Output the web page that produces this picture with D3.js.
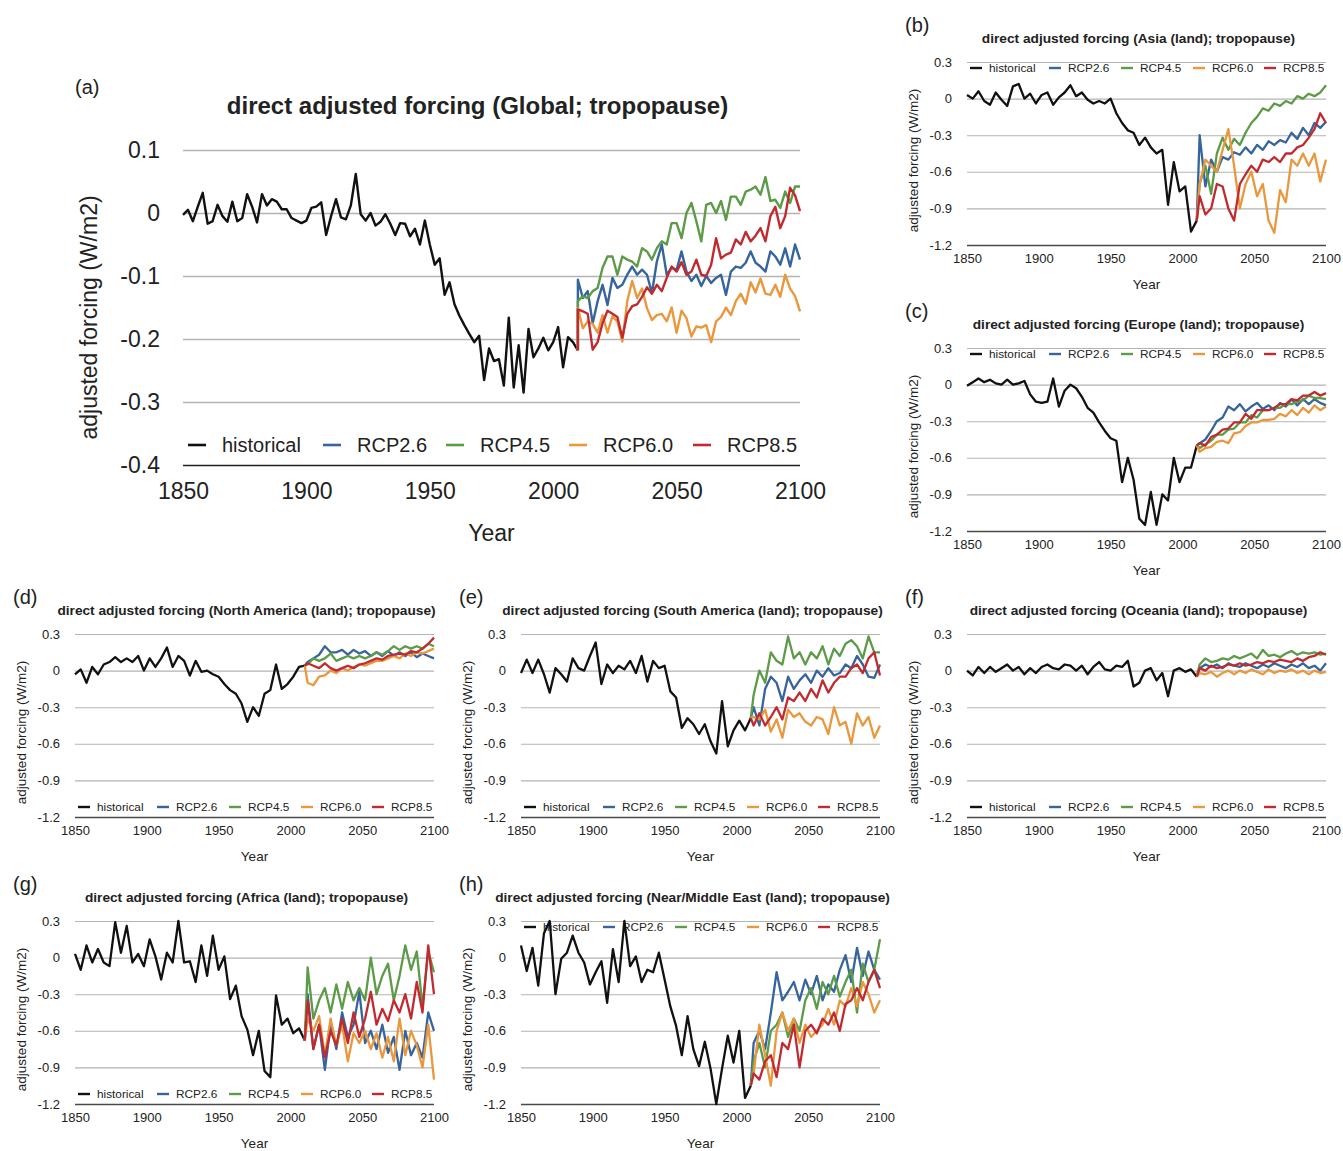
<!DOCTYPE html>
<html>
<head>
<meta charset="utf-8">
<script src="https://cdn.jsdelivr.net/npm/d3@7"></script>
<style>
  body { margin: 0; background: #fff; }
  svg { display: block; }
  text { font-family: 'Liberation Sans', Arial, Helvetica, sans-serif; fill: #222; }
</style>
</head>
<body>
<svg id="fig" width="1343" height="1151"></svg>
<script>
// ---- series names, colours and axis ticks ----
const scenarios = ["historical", "RCP2.6", "RCP4.5", "RCP6.0", "RCP8.5"];
const scenarioColors = ["#111111", "#36649c", "#5c9b47", "#e9983e", "#c12b30"];
const xTicks = [1850, 1900, 1950, 2000, 2050, 2100];
const globalYTicks = [0.1, 0, -0.1, -0.2, -0.3, -0.4];
const regionYTicks = [0.3, 0, -0.3, -0.6, -0.9, -1.2];

// ---- Global mean: historical 1850-2010 (every 2 yr), scenarios 2010-2100 (every 2 yr) ----
const globalHist = [
  -0.003, 0.005, -0.013, 0.010, 0.032, -0.017, -0.013, 0.013, -0.005, -0.014,
  0.018, -0.013, -0.008, 0.030, 0.010, -0.015, 0.030, 0.012, 0.022, 0.018,
  0.006, 0.006, -0.008, -0.012, -0.016, -0.012, 0.008, 0.010, 0.017, -0.035,
  -0.005, 0.022, -0.007, -0.010, 0.012, 0.062, -0.002, -0.012, 0.000, -0.020,
  -0.014, -0.002, -0.017, -0.035, -0.016, -0.017, -0.037, -0.025, -0.050, -0.012,
  -0.050, -0.082, -0.072, -0.130, -0.110, -0.145, -0.163, -0.178, -0.192, -0.205,
  -0.195, -0.265, -0.215, -0.235, -0.232, -0.274, -0.166, -0.277, -0.210, -0.285,
  -0.184, -0.229, -0.215, -0.198, -0.218, -0.205, -0.181, -0.245, -0.197, -0.205,
  -0.218
];
const globalRcp26 = [
  -0.106, -0.135, -0.124, -0.175, -0.140, -0.114, -0.146, -0.103, -0.119, -0.114,
  -0.098, -0.085, -0.098, -0.090, -0.098, -0.127, -0.077, -0.050, -0.098, -0.087,
  -0.090, -0.061, -0.093, -0.108, -0.098, -0.116, -0.100, -0.111, -0.103, -0.098,
  -0.130, -0.093, -0.085, -0.087, -0.079, -0.061, -0.079, -0.085, -0.093, -0.061,
  -0.069, -0.082, -0.056, -0.085, -0.050, -0.074
];
const globalRcp45 = [
  -0.140, -0.132, -0.135, -0.124, -0.119, -0.087, -0.069, -0.069, -0.098, -0.069,
  -0.074, -0.077, -0.085, -0.056, -0.061, -0.074, -0.056, -0.045, -0.050, -0.016,
  -0.016, -0.040, 0.000, 0.016, -0.013, -0.045, 0.013, 0.016, 0.000, 0.019,
  -0.011, 0.026, 0.026, 0.013, 0.034, 0.037, 0.042, 0.029, 0.057, 0.019,
  0.021, 0.008, 0.034, 0.016, 0.042, 0.042
];
const globalRcp60 = [
  -0.151, -0.183, -0.172, -0.176, -0.190, -0.162, -0.190, -0.164, -0.172, -0.204,
  -0.140, -0.108, -0.135, -0.120, -0.151, -0.170, -0.162, -0.160, -0.172, -0.150,
  -0.190, -0.155, -0.167, -0.196, -0.180, -0.182, -0.178, -0.205, -0.172, -0.165,
  -0.150, -0.162, -0.140, -0.128, -0.144, -0.110, -0.126, -0.104, -0.128, -0.130,
  -0.114, -0.133, -0.098, -0.120, -0.132, -0.156
];
const globalRcp85 = [
  -0.153, -0.156, -0.160, -0.217, -0.205, -0.175, -0.155, -0.160, -0.165, -0.198,
  -0.160, -0.148, -0.145, -0.133, -0.118, -0.128, -0.114, -0.124, -0.103, -0.085,
  -0.093, -0.078, -0.098, -0.093, -0.074, -0.098, -0.100, -0.082, -0.040, -0.072,
  -0.066, -0.063, -0.042, -0.050, -0.030, -0.045, -0.036, -0.024, -0.045, -0.005,
  0.010, -0.024, -0.005, 0.040, 0.028, 0.003
];

// ---- Regions (land): historical 1850-2010 (every 4 yr), scenarios 2012-2100 (every 4 yr) ----
const asiaHist = [
  0.03, 0.00, 0.06, -0.02, -0.05, 0.05, -0.01, -0.06, 0.10, 0.12,
  0.00, 0.04, -0.04, 0.03, 0.05, -0.05, 0.01, 0.05, 0.11, 0.02,
  0.05, -0.01, -0.04, -0.02, -0.04, 0.00, -0.12, -0.20, -0.26, -0.28,
  -0.38, -0.32, -0.40, -0.45, -0.42, -0.87, -0.52, -0.76, -0.72, -1.09,
  -1.00
];
const asiaRcp26 = [-0.30, -0.72, -0.50, -0.60, -0.48, -0.50, -0.44, -0.46, -0.40, -0.45, -0.38, -0.42, -0.35, -0.38, -0.34, -0.36, -0.28, -0.33, -0.24, -0.30, -0.20, -0.24, -0.19];
const asiaRcp45 = [-0.70, -0.55, -0.78, -0.45, -0.32, -0.42, -0.33, -0.38, -0.28, -0.20, -0.15, -0.08, -0.10, -0.04, -0.06, -0.02, -0.04, 0.02, 0.00, 0.04, 0.02, 0.05, 0.11];
const asiaRcp60 = [-0.70, -0.50, -0.55, -0.60, -0.42, -0.25, -0.55, -0.90, -0.70, -0.60, -0.80, -0.70, -1.00, -1.10, -0.75, -0.85, -0.50, -0.55, -0.45, -0.55, -0.45, -0.68, -0.50];
const asiaRcp85 = [-0.80, -0.95, -0.90, -0.70, -0.72, -0.90, -1.00, -0.70, -0.62, -0.55, -0.60, -0.50, -0.52, -0.48, -0.52, -0.45, -0.45, -0.40, -0.38, -0.32, -0.25, -0.12, -0.20];

const europeHist = [
  -0.01, 0.02, 0.05, 0.02, 0.04, 0.01, 0.00, 0.04, 0.00, 0.01,
  0.03, -0.08, -0.14, -0.15, -0.14, 0.05, -0.18, -0.05, 0.00, -0.03,
  -0.10, -0.19, -0.23, -0.31, -0.38, -0.44, -0.46, -0.80, -0.60, -0.78,
  -1.10, -1.15, -0.88, -1.15, -0.90, -0.95, -0.60, -0.80, -0.68, -0.68,
  -0.50
];
const europeRcp26 = [-0.48, -0.45, -0.38, -0.30, -0.27, -0.18, -0.21, -0.16, -0.22, -0.18, -0.15, -0.20, -0.17, -0.21, -0.15, -0.18, -0.12, -0.17, -0.12, -0.16, -0.12, -0.15, -0.17];
const europeRcp45 = [-0.52, -0.49, -0.46, -0.41, -0.41, -0.37, -0.36, -0.31, -0.31, -0.25, -0.27, -0.21, -0.21, -0.19, -0.19, -0.16, -0.16, -0.14, -0.13, -0.09, -0.11, -0.11, -0.12];
const europeRcp60 = [-0.55, -0.52, -0.51, -0.47, -0.46, -0.48, -0.40, -0.39, -0.34, -0.31, -0.31, -0.29, -0.29, -0.28, -0.24, -0.26, -0.21, -0.25, -0.19, -0.23, -0.17, -0.21, -0.18];
const europeRcp85 = [-0.48, -0.50, -0.43, -0.41, -0.37, -0.36, -0.31, -0.31, -0.24, -0.28, -0.21, -0.21, -0.21, -0.19, -0.16, -0.16, -0.12, -0.13, -0.09, -0.09, -0.06, -0.09, -0.07];

const northAmericaHist = [
  -0.03, 0.01, -0.10, 0.03, -0.03, 0.05, 0.07, 0.11, 0.07, 0.10,
  0.07, 0.12, 0.00, 0.10, 0.03, 0.10, 0.19, 0.03, 0.12, 0.08,
  -0.04, 0.08, -0.01, 0.00, -0.03, -0.05, -0.11, -0.16, -0.19, -0.27,
  -0.42, -0.30, -0.37, -0.19, -0.16, 0.05, -0.15, -0.11, -0.05, 0.03,
  0.04
];
const northAmericaRcp26 = [0.07, 0.10, 0.13, 0.20, 0.15, 0.15, 0.17, 0.13, 0.17, 0.14, 0.16, 0.12, 0.15, 0.12, 0.16, 0.12, 0.15, 0.12, 0.15, 0.11, 0.14, 0.12, 0.10];
const northAmericaRcp45 = [0.05, 0.10, 0.08, 0.10, 0.14, 0.08, 0.10, 0.12, 0.10, 0.12, 0.10, 0.12, 0.15, 0.13, 0.16, 0.20, 0.17, 0.20, 0.18, 0.20, 0.18, 0.22, 0.20];
const northAmericaRcp60 = [-0.10, -0.12, -0.05, -0.04, 0.00, -0.02, 0.02, 0.00, 0.03, 0.05, 0.04, 0.06, 0.08, 0.08, 0.10, 0.12, 0.10, 0.14, 0.12, 0.15, 0.14, 0.16, 0.18];
const northAmericaRcp85 = [0.06, 0.04, 0.02, 0.06, 0.02, 0.00, 0.02, 0.04, 0.02, 0.05, 0.06, 0.08, 0.10, 0.09, 0.12, 0.13, 0.14, 0.13, 0.16, 0.15, 0.18, 0.22, 0.27];

const southAmericaHist = [
  -0.02, 0.09, -0.02, 0.09, -0.03, -0.18, 0.02, -0.03, -0.09, 0.10,
  0.02, 0.00, 0.12, 0.23, -0.11, 0.05, -0.02, 0.04, 0.01, 0.08,
  -0.02, 0.12, -0.09, 0.08, 0.02, 0.04, -0.17, -0.22, -0.47, -0.39,
  -0.44, -0.52, -0.44, -0.58, -0.68, -0.25, -0.62, -0.49, -0.41, -0.49,
  -0.39
];
const southAmericaRcp26 = [-0.30, -0.45, -0.15, -0.05, -0.10, -0.25, -0.05, -0.15, -0.08, -0.03, -0.10, 0.00, -0.05, 0.02, -0.04, -0.02, 0.05, 0.02, 0.12, 0.05, -0.05, -0.06, 0.05];
const southAmericaRcp45 = [-0.20, 0.00, -0.10, 0.15, 0.08, 0.05, 0.28, 0.10, 0.15, 0.05, 0.15, 0.10, 0.20, 0.05, 0.18, 0.12, 0.22, 0.25, 0.20, 0.10, 0.28, 0.15, 0.15];
const southAmericaRcp60 = [-0.38, -0.40, -0.32, -0.50, -0.40, -0.55, -0.32, -0.38, -0.35, -0.42, -0.45, -0.38, -0.40, -0.52, -0.30, -0.45, -0.42, -0.60, -0.35, -0.45, -0.38, -0.55, -0.45];
const southAmericaRcp85 = [-0.45, -0.35, -0.45, -0.38, -0.30, -0.40, -0.22, -0.25, -0.18, -0.25, -0.15, -0.22, -0.08, -0.18, -0.10, -0.05, -0.05, 0.02, 0.05, -0.02, 0.10, 0.15, -0.04];

const oceaniaHist = [
  0.00, -0.04, 0.03, -0.02, 0.03, -0.01, 0.02, 0.05, 0.00, 0.03,
  -0.03, 0.02, -0.02, 0.03, 0.05, 0.02, 0.01, 0.05, 0.04, 0.00,
  0.04, -0.03, 0.03, 0.07, 0.01, 0.00, 0.04, 0.03, 0.08, -0.13,
  -0.10, 0.00, 0.02, -0.08, -0.02, -0.21, 0.00, 0.02, -0.01, 0.01,
  -0.05
];
const oceaniaRcp26 = [0.02, 0.05, 0.03, 0.05, 0.02, 0.06, 0.04, 0.03, 0.06, 0.04, 0.02, 0.05, 0.03, 0.06, 0.04, 0.02, 0.05, 0.03, 0.06, 0.02, 0.04, 0.00, 0.06];
const oceaniaRcp45 = [0.05, 0.10, 0.07, 0.08, 0.10, 0.09, 0.12, 0.10, 0.12, 0.14, 0.10, 0.17, 0.12, 0.13, 0.11, 0.14, 0.16, 0.13, 0.15, 0.14, 0.15, 0.13, 0.14];
const oceaniaRcp60 = [-0.02, -0.03, -0.01, -0.05, -0.02, 0.00, -0.03, 0.00, -0.02, 0.01, -0.01, -0.03, 0.01, -0.02, 0.00, -0.01, 0.01, -0.02, 0.00, -0.03, 0.00, -0.02, -0.01];
const oceaniaRcp85 = [0.02, 0.00, 0.04, 0.02, 0.03, 0.05, 0.04, 0.06, 0.04, 0.05, 0.07, 0.06, 0.08, 0.07, 0.09, 0.08, 0.07, 0.10, 0.08, 0.11, 0.12, 0.15, 0.13];

const africaHist = [
  0.03, -0.10, 0.10, -0.04, 0.07, -0.04, -0.07, 0.29, 0.04, 0.26,
  -0.04, 0.03, -0.07, 0.15, 0.01, -0.18, 0.04, -0.04, 0.30, -0.04,
  -0.03, -0.20, 0.10, -0.15, 0.18, -0.10, 0.01, -0.34, -0.23, -0.48,
  -0.59, -0.80, -0.60, -0.93, -0.98, -0.31, -0.55, -0.50, -0.62, -0.58,
  -0.68
];
const africaRcp26 = [-0.30, -0.75, -0.55, -0.92, -0.55, -0.75, -0.45, -0.65, -0.55, -0.28, -0.70, -0.60, -0.75, -0.55, -0.78, -0.65, -0.92, -0.60, -0.80, -0.70, -0.82, -0.45, -0.60];
const africaRcp45 = [-0.08, -0.50, -0.35, -0.25, -0.45, -0.22, -0.42, -0.20, -0.35, -0.25, -0.35, 0.00, -0.30, -0.15, -0.05, -0.35, -0.15, 0.10, -0.10, 0.05, -0.40, 0.05, -0.12];
const africaRcp60 = [-0.50, -0.60, -0.48, -0.80, -0.50, -0.72, -0.55, -0.85, -0.62, -0.70, -0.60, -0.75, -0.62, -0.82, -0.65, -0.85, -0.50, -0.80, -0.60, -0.72, -0.90, -0.55, -1.00];
const africaRcp85 = [-0.35, -0.75, -0.55, -0.82, -0.60, -0.72, -0.50, -0.70, -0.45, -0.65, -0.50, -0.28, -0.55, -0.42, -0.52, -0.35, -0.45, -0.30, -0.50, -0.20, -0.45, 0.10, -0.30];

const middleEastHist = [
  0.10, -0.11, 0.08, -0.23, 0.20, 0.30, -0.30, -0.01, 0.04, 0.18,
  0.04, -0.04, -0.22, -0.12, -0.03, -0.37, 0.07, -0.20, 0.30, -0.07,
  0.01, -0.20, -0.10, -0.12, 0.04, -0.18, -0.40, -0.56, -0.80, -0.48,
  -0.75, -0.89, -0.69, -0.91, -1.20, -0.91, -0.64, -0.86, -0.60, -1.15,
  -1.05
];
const middleEastRcp26 = [-0.70, -0.60, -0.75, -0.45, -0.12, -0.35, -0.28, -0.20, -0.35, -0.18, -0.30, -0.15, -0.35, -0.22, -0.28, -0.10, 0.02, -0.20, 0.08, -0.15, 0.05, -0.10, -0.18];
const middleEastRcp45 = [-0.85, -0.70, -0.90, -0.60, -0.55, -0.45, -0.65, -0.50, -0.60, -0.35, -0.25, -0.42, -0.20, -0.30, -0.15, -0.32, -0.20, -0.10, -0.45, -0.05, -0.20, -0.10, 0.15];
const middleEastRcp60 = [-0.95, -0.55, -0.80, -1.05, -0.60, -0.45, -0.60, -0.50, -0.70, -0.55, -0.65, -0.60, -0.55, -0.42, -0.55, -0.35, -0.40, -0.25, -0.40, -0.20, -0.30, -0.45, -0.35];
const middleEastRcp85 = [-0.95, -1.00, -0.85, -0.80, -0.98, -0.70, -0.75, -0.55, -0.90, -0.60, -0.55, -0.62, -0.50, -0.55, -0.45, -0.60, -0.38, -0.35, -0.25, -0.35, -0.20, -0.10, -0.25];

// ---- panel layout ----
const globalPanel = {
  letter: "(a)", title: "direct adjusted forcing (Global; tropopause)",
  left: 183, top: 150, width: 617, height: 315,
  yDomain: [-0.4, 0.1], yTicks: globalYTicks,
  hist: globalHist, histStep: 2,
  rcp: [globalRcp26, globalRcp45, globalRcp60, globalRcp85], rcpStart: 2010, rcpStep: 2,
  big: true
};

const regionPanels = [
  { letter: "(b)", region: "Asia", left: 967, top: 62, legend: "top",
    hist: asiaHist, rcp: [asiaRcp26, asiaRcp45, asiaRcp60, asiaRcp85] },
  { letter: "(c)", region: "Europe", left: 967, top: 348, legend: "top",
    hist: europeHist, rcp: [europeRcp26, europeRcp45, europeRcp60, europeRcp85] },
  { letter: "(d)", region: "North America", left: 75, top: 634, legend: "bottom",
    hist: northAmericaHist, rcp: [northAmericaRcp26, northAmericaRcp45, northAmericaRcp60, northAmericaRcp85] },
  { letter: "(e)", region: "South America", left: 521, top: 634, legend: "bottom",
    hist: southAmericaHist, rcp: [southAmericaRcp26, southAmericaRcp45, southAmericaRcp60, southAmericaRcp85] },
  { letter: "(f)", region: "Oceania", left: 967, top: 634, legend: "bottom",
    hist: oceaniaHist, rcp: [oceaniaRcp26, oceaniaRcp45, oceaniaRcp60, oceaniaRcp85] },
  { letter: "(g)", region: "Africa", left: 75, top: 921, legend: "bottom",
    hist: africaHist, rcp: [africaRcp26, africaRcp45, africaRcp60, africaRcp85] },
  { letter: "(h)", region: "Near/Middle East", left: 521, top: 921, legend: "top",
    hist: middleEastHist, rcp: [middleEastRcp26, middleEastRcp45, middleEastRcp60, middleEastRcp85] }
].map(p => Object.assign({
  title: `direct adjusted forcing (${p.region} (land); tropopause)`,
  width: 359, height: 183,
  yDomain: [-1.2, 0.3], yTicks: regionYTicks,
  histStep: 4, rcpStart: 2012, rcpStep: 4,
  big: false
}, p));

const svg = d3.select("#fig");
const FONT = "'Liberation Sans', Arial, Helvetica, sans-serif";
const tickText = v => String(+v.toFixed(1));
const toPoints = (values, start, step) => values.map((v, i) => [start + i * step, v]);

function drawPanel(p) {
  const s = p.big ? {
    tick: 23, yPad: 23, xPad: 18, axisLabel: 23, yLabelDx: -86, yLabelDy: 10, yearDy: 76,
    title: 24, titleDx: -14, titleDy: -36, letter: 20, letterDx: -108, letterDy: -56,
    legendFont: 20, legendY: 295, legendText: [39, 174, 297, 420, 544], dashFrom: -34, dashTo: -16, dashW: 2.6,
    lineW: 2.4, gridW: 1.3
  } : {
    tick: 13, yPad: 15, xPad: 8.5, axisLabel: 13.5, yLabelDx: -49, yLabelDy: 7, yearDy: 44,
    title: 13.7, titleDx: -8, titleDy: -19, letter: 20, letterDx: -62, letterDy: -30,
    legendFont: 11.8, legendY: p.legend === "top" ? 6 : p.height - 10,
    legendText: [22, 101, 173, 245, 316], dashFrom: -19, dashTo: -7, dashW: 2.4,
    lineW: 2.3, gridW: 1.1
  };

  const g = svg.append("g").attr("transform", `translate(${p.left},${p.top})`);
  const x = d3.scaleLinear().domain([1850, 2100]).range([0, p.width]);
  const y = d3.scaleLinear().domain(p.yDomain).range([p.height, 0]);

  // horizontal gridlines with value labels
  const ya = g.append("g")
    .call(d3.axisLeft(y).tickValues(p.yTicks).tickSize(-p.width).tickPadding(s.yPad).tickFormat(tickText))
    .attr("font-family", FONT).attr("font-size", s.tick);
  ya.select(".domain").remove();
  ya.selectAll(".tick line").attr("stroke", "#b3b3b3").attr("stroke-width", s.gridW);
  ya.selectAll(".tick").filter(d => d === p.yDomain[0]).select("line")
    .attr("stroke", p.big ? "#222" : "#4a4a4a").attr("stroke-width", p.big ? 1.6 : 1.5);
  ya.selectAll("text").attr("fill", "#222");

  // year labels
  const xa = g.append("g").attr("transform", `translate(0,${p.height})`)
    .call(d3.axisBottom(x).tickValues(xTicks).tickSize(0).tickPadding(s.xPad).tickFormat(d3.format("d")))
    .attr("font-family", FONT).attr("font-size", s.tick);
  xa.select(".domain").remove();
  xa.selectAll("text").attr("fill", "#222");

  // axis titles
  g.append("text").attr("x", p.width / 2).attr("y", p.height + s.yearDy)
    .attr("text-anchor", "middle").attr("font-size", s.axisLabel).text("Year");
  g.append("text")
    .attr("transform", `translate(${s.yLabelDx},${p.height / 2 + s.yLabelDy}) rotate(-90)`)
    .attr("text-anchor", "middle").attr("font-size", s.axisLabel).text("adjusted forcing (W/m2)");

  // panel title and letter
  g.append("text").attr("x", p.width / 2 + s.titleDx).attr("y", s.titleDy)
    .attr("text-anchor", "middle").attr("font-size", s.title).attr("font-weight", "bold").text(p.title);
  g.append("text").attr("x", s.letterDx).attr("y", s.letterDy)
    .attr("font-size", s.letter).text(p.letter);

  // legend
  const lg = g.append("g").attr("transform", `translate(0,${s.legendY})`);
  scenarios.forEach((name, i) => {
    const tx = s.legendText[i];
    lg.append("line").attr("x1", tx + s.dashFrom).attr("x2", tx + s.dashTo)
      .attr("stroke", scenarioColors[i]).attr("stroke-width", s.dashW);
    lg.append("text").attr("x", tx).attr("dy", "0.35em").attr("font-size", s.legendFont).text(name);
  });

  // series
  const line = d3.line().x(d => x(d[0])).y(d => y(d[1]));
  const histPts = toPoints(p.hist, 1850, p.histStep);
  const last = histPts[histPts.length - 1];
  g.append("path").datum(histPts).attr("d", line)
    .attr("fill", "none").attr("stroke", scenarioColors[0])
    .attr("stroke-width", s.lineW).attr("stroke-linejoin", "round");
  p.rcp.forEach((vals, i) => {
    const pts = [last].concat(toPoints(vals, p.rcpStart, p.rcpStep));
    g.append("path").datum(pts).attr("d", line)
      .attr("fill", "none").attr("stroke", scenarioColors[i + 1])
      .attr("stroke-width", s.lineW).attr("stroke-linejoin", "round");
  });
}

drawPanel(globalPanel);
regionPanels.forEach(drawPanel);
</script>
</body>
</html>
